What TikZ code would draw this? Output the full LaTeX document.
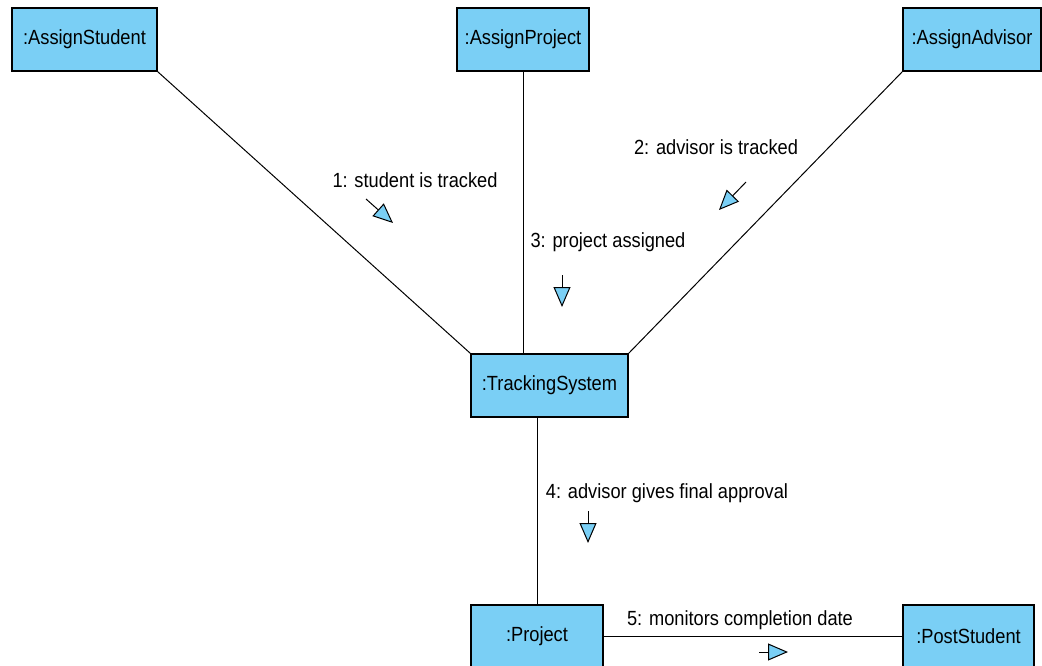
\documentclass[tikz,border=0pt]{standalone}
\usepackage{fontspec}
\setmainfont[FakeStretch=0.89]{Liberation Sans}
\usetikzlibrary{arrows.meta}
\definecolor{objblue}{RGB}{122,207,245}
\newcommand\diagfont{\fontsize{20.5pt}{24pt}\selectfont}
\begin{document}
\begin{tikzpicture}[x=1pt,y=-1pt,
  obj/.style={draw=black,fill=objblue,line width=1.3pt,minimum height=63pt,inner sep=0pt,font=\diagfont},
  link/.style={draw=black,line width=1pt},
  lbl/.style={font=\diagfont,inner sep=0pt},
  msg/.style={draw=black,line width=1pt,-{Triangle[length=20pt,width=17pt,fill=objblue,line width=1pt]}}]
\useasboundingbox (0,0) rectangle (1042,666);
% objects
\node[obj,minimum width=145pt] (as) at (84.5,39.5) {:AssignStudent};
\node[obj,minimum width=132pt] (ap) at (523,39.5) {:AssignProject};
\node[obj,minimum width=138pt] (aa) at (972,39.5) {:AssignAdvisor};
\node[obj,minimum width=157pt] (ts) at (549.5,385.5) {:TrackingSystem};
\node[obj,minimum width=132pt] (pr) at (537,636.5) {:Project};
\node[obj,minimum width=131pt] (ps) at (968.5,636.5) {:PostStudent};
% links
\draw[link] (as.south east) -- (ts.north west);
\draw[link] (ap.south) -- (ap.south |- ts.north);
\draw[link] (aa.south west) -- (ts.north east);
\draw[link] (pr.north |- ts.south) -- (pr.north);
\draw[link] (pr.east) -- (ps.west);
% labels
\node[lbl] (l1) at (415,180) {1: student is tracked};
\node[lbl] (l2) at (716,147) {2: advisor is tracked};
\node[lbl] (l3) at (608,242) {3: project assigned};
\node[lbl] (l4) at (667,493) {4: advisor gives final approval};
\node[lbl] (l5) at (740,620) {5: monitors completion date};
% message arrows
\coordinate (m1s) at (366,199); \coordinate (m1e) at (393,223);
\coordinate (m2s) at (746,182); \coordinate (m2e) at (719,210);
\coordinate (m3s) at (562,275); \coordinate (m3e) at (562,307);
\coordinate (m4s) at (588,511); \coordinate (m4e) at (588,543);
\coordinate (m5s) at (759,652); \coordinate (m5e) at (788,652);
\draw[msg] (m1s) -- (m1e);
\draw[msg] (m2s) -- (m2e);
\draw[msg] (m3s) -- (m3e);
\draw[msg] (m4s) -- (m4e);
\draw[msg] (m5s) -- (m5e);
\end{tikzpicture}
\end{document}
